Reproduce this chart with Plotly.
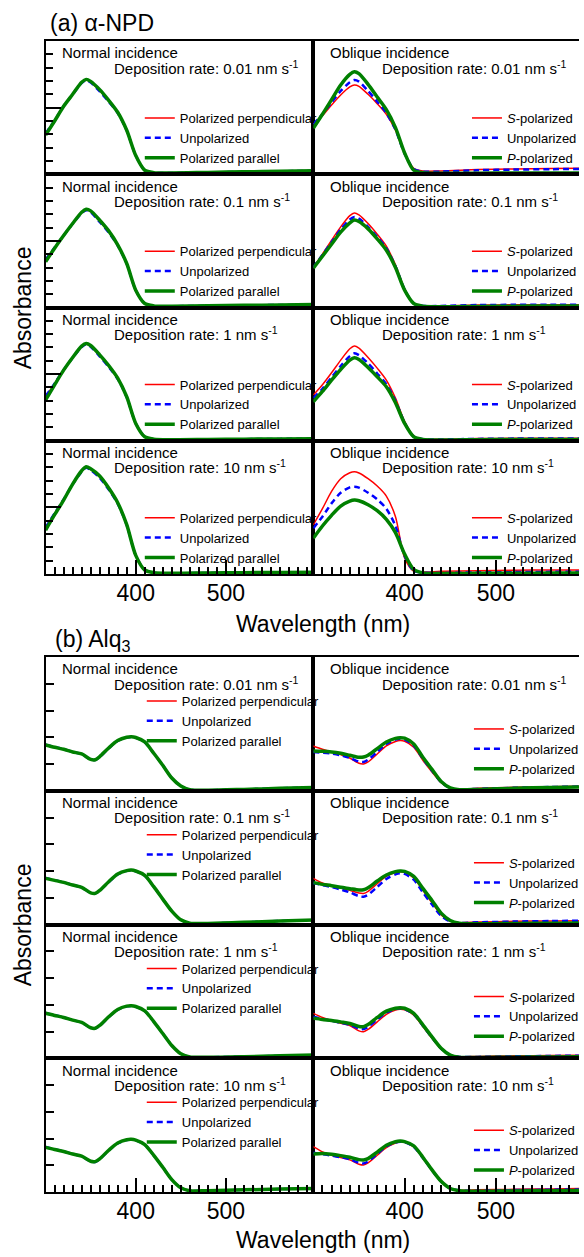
import plotly.graph_objects as go

W, H = 584, 1257
FONT = "Liberation Sans, Arial, sans-serif"

# ---------------- data ----------------
wl_npd = [300, 310, 320, 330, 340, 345, 350, 360, 370, 380, 390, 400, 410, 420, 440, 480, 520, 560, 600]
wl_alq = [300, 310, 320, 330, 340, 350, 355, 360, 370, 380, 390, 395, 400, 410, 420, 430, 440, 450, 460, 480, 520, 560, 600]
rates = ["0.01", "0.1", "1", "10"]

# alpha-NPD, normal incidence (perpendicular / unpolarized / parallel)
npd_n1_perp = [0.302, 0.403, 0.51, 0.599, 0.687, 0.708, 0.692, 0.628, 0.55, 0.462, 0.33, 0.14, 0.03, 0.012, 0.01, 0.014, 0.018, 0.022, 0.026]
npd_n1_unpol = [0.305, 0.405, 0.51, 0.598, 0.684, 0.705, 0.688, 0.622, 0.545, 0.46, 0.328, 0.14, 0.03, 0.012, 0.01, 0.014, 0.018, 0.022, 0.026]
npd_n1_par = [0.295, 0.40, 0.51, 0.60, 0.69, 0.712, 0.697, 0.635, 0.555, 0.465, 0.33, 0.14, 0.03, 0.012, 0.01, 0.014, 0.018, 0.022, 0.026]
npd_n2_perp = [0.355, 0.448, 0.54, 0.629, 0.711, 0.733, 0.72, 0.648, 0.568, 0.467, 0.33, 0.13, 0.03, 0.012, 0.01, 0.013, 0.016, 0.019, 0.022]
npd_n2_unpol = [0.36, 0.45, 0.54, 0.628, 0.708, 0.73, 0.715, 0.642, 0.563, 0.465, 0.328, 0.13, 0.03, 0.012, 0.01, 0.013, 0.016, 0.019, 0.022]
npd_n2_par = [0.344, 0.445, 0.54, 0.63, 0.715, 0.737, 0.725, 0.655, 0.575, 0.47, 0.33, 0.13, 0.03, 0.012, 0.01, 0.013, 0.016, 0.019, 0.022]
npd_n3_perp = [0.33, 0.428, 0.531, 0.624, 0.706, 0.727, 0.71, 0.638, 0.558, 0.466, 0.329, 0.13, 0.03, 0.012, 0.008, 0.01, 0.012, 0.014, 0.016]
npd_n3_unpol = [0.335, 0.43, 0.532, 0.623, 0.703, 0.724, 0.706, 0.633, 0.553, 0.463, 0.327, 0.13, 0.03, 0.012, 0.008, 0.01, 0.012, 0.014, 0.016]
npd_n3_par = [0.306, 0.42, 0.53, 0.625, 0.71, 0.73, 0.715, 0.645, 0.565, 0.47, 0.33, 0.13, 0.03, 0.012, 0.008, 0.01, 0.012, 0.014, 0.016]
npd_n4_perp = [0.345, 0.452, 0.558, 0.674, 0.771, 0.801, 0.785, 0.728, 0.638, 0.531, 0.369, 0.14, 0.03, 0.01, 0.006, 0.008, 0.01, 0.012, 0.014]
npd_n4_unpol = [0.35, 0.455, 0.56, 0.673, 0.768, 0.798, 0.78, 0.722, 0.633, 0.528, 0.367, 0.14, 0.03, 0.01, 0.006, 0.008, 0.01, 0.012, 0.014]
npd_n4_par = [0.33, 0.445, 0.555, 0.675, 0.775, 0.805, 0.79, 0.735, 0.645, 0.535, 0.37, 0.14, 0.03, 0.01, 0.006, 0.008, 0.01, 0.012, 0.014]

# alpha-NPD, oblique incidence (S / unpolarized / P)
npd_o1_s = [0.38, 0.44, 0.52, 0.595, 0.655, 0.67, 0.66, 0.60, 0.53, 0.45, 0.33, 0.155, 0.045, 0.025, 0.025, 0.035, 0.04, 0.043, 0.045]
npd_o1_unpol = [0.375, 0.45, 0.54, 0.625, 0.69, 0.707, 0.695, 0.625, 0.545, 0.46, 0.335, 0.155, 0.04, 0.02, 0.02, 0.03, 0.035, 0.038, 0.04]
npd_o1_p = [0.345, 0.45, 0.56, 0.67, 0.75, 0.77, 0.755, 0.675, 0.58, 0.485, 0.35, 0.16, 0.03, 0.012, 0.008, 0.008, 0.009, 0.01, 0.01]
npd_o2_s = [0.30, 0.40, 0.505, 0.605, 0.69, 0.71, 0.695, 0.63, 0.55, 0.46, 0.32, 0.14, 0.03, 0.012, 0.012, 0.018, 0.02, 0.02, 0.02]
npd_o2_unpol = [0.30, 0.395, 0.49, 0.585, 0.66, 0.68, 0.667, 0.605, 0.53, 0.445, 0.31, 0.135, 0.03, 0.012, 0.012, 0.018, 0.02, 0.02, 0.02]
npd_o2_p = [0.294, 0.385, 0.475, 0.565, 0.635, 0.657, 0.645, 0.59, 0.515, 0.43, 0.30, 0.13, 0.03, 0.01, 0.006, 0.008, 0.01, 0.012, 0.012]
npd_o3_s = [0.343, 0.42, 0.51, 0.605, 0.69, 0.711, 0.695, 0.625, 0.545, 0.455, 0.32, 0.145, 0.035, 0.012, 0.012, 0.016, 0.018, 0.018, 0.018]
npd_o3_unpol = [0.32, 0.39, 0.475, 0.56, 0.635, 0.656, 0.642, 0.58, 0.505, 0.425, 0.30, 0.135, 0.03, 0.012, 0.01, 0.014, 0.016, 0.016, 0.016]
npd_o3_p = [0.293, 0.37, 0.455, 0.535, 0.605, 0.623, 0.61, 0.55, 0.48, 0.405, 0.285, 0.13, 0.03, 0.01, 0.006, 0.008, 0.01, 0.01, 0.01]
npd_o4_s = [0.368, 0.49, 0.62, 0.715, 0.76, 0.768, 0.758, 0.715, 0.66, 0.585, 0.43, 0.12, 0.02, 0.015, 0.02, 0.025, 0.028, 0.03, 0.03]
npd_o4_unpol = [0.343, 0.43, 0.53, 0.61, 0.65, 0.655, 0.648, 0.61, 0.56, 0.49, 0.36, 0.135, 0.025, 0.01, 0.008, 0.012, 0.014, 0.016, 0.018]
npd_o4_p = [0.268, 0.36, 0.44, 0.51, 0.547, 0.555, 0.55, 0.52, 0.475, 0.41, 0.31, 0.15, 0.035, 0.008, 0.004, 0.005, 0.006, 0.007, 0.008]

# Alq3, normal incidence
alq_n1_par = [0.342, 0.325, 0.31, 0.29, 0.275, 0.235, 0.232, 0.255, 0.32, 0.375, 0.40, 0.404, 0.398, 0.365, 0.28, 0.19, 0.095, 0.035, 0.008, 0.004, 0.01, 0.018, 0.025]
alq_n1_unpol = [0.344, 0.327, 0.311, 0.29, 0.274, 0.233, 0.23, 0.252, 0.317, 0.372, 0.398, 0.402, 0.396, 0.363, 0.279, 0.19, 0.095, 0.035, 0.008, 0.004, 0.01, 0.018, 0.025]
alq_n1_perp = [0.343, 0.326, 0.31, 0.29, 0.275, 0.234, 0.231, 0.253, 0.318, 0.373, 0.399, 0.403, 0.397, 0.364, 0.28, 0.19, 0.095, 0.035, 0.008, 0.004, 0.01, 0.018, 0.025]
alq_n2_par = [0.345, 0.33, 0.315, 0.295, 0.278, 0.237, 0.233, 0.255, 0.32, 0.378, 0.403, 0.407, 0.40, 0.367, 0.283, 0.19, 0.10, 0.035, 0.01, 0.008, 0.016, 0.026, 0.034]
alq_n2_unpol = [0.347, 0.332, 0.316, 0.295, 0.277, 0.235, 0.231, 0.252, 0.317, 0.375, 0.401, 0.405, 0.398, 0.365, 0.282, 0.19, 0.10, 0.035, 0.01, 0.008, 0.016, 0.026, 0.034]
alq_n2_perp = [0.346, 0.331, 0.315, 0.295, 0.278, 0.236, 0.232, 0.253, 0.318, 0.376, 0.402, 0.406, 0.399, 0.366, 0.283, 0.19, 0.10, 0.035, 0.01, 0.008, 0.016, 0.026, 0.034]
alq_n3_par = [0.336, 0.32, 0.305, 0.285, 0.268, 0.228, 0.224, 0.245, 0.31, 0.365, 0.39, 0.393, 0.387, 0.355, 0.274, 0.185, 0.095, 0.034, 0.01, 0.008, 0.012, 0.018, 0.024]
alq_n3_unpol = [0.338, 0.322, 0.306, 0.285, 0.267, 0.226, 0.222, 0.242, 0.307, 0.362, 0.388, 0.391, 0.385, 0.353, 0.273, 0.185, 0.095, 0.034, 0.01, 0.008, 0.012, 0.018, 0.024]
alq_n3_perp = [0.337, 0.321, 0.305, 0.285, 0.268, 0.227, 0.223, 0.243, 0.308, 0.363, 0.389, 0.392, 0.386, 0.354, 0.274, 0.185, 0.095, 0.034, 0.01, 0.008, 0.012, 0.018, 0.024]
alq_n4_par = [0.334, 0.318, 0.303, 0.284, 0.268, 0.23, 0.227, 0.248, 0.312, 0.367, 0.391, 0.394, 0.388, 0.355, 0.274, 0.185, 0.093, 0.032, 0.01, 0.01, 0.016, 0.022, 0.026]
alq_n4_unpol = [0.336, 0.32, 0.304, 0.284, 0.267, 0.228, 0.225, 0.245, 0.309, 0.364, 0.389, 0.392, 0.386, 0.353, 0.273, 0.185, 0.093, 0.032, 0.01, 0.01, 0.016, 0.022, 0.026]
alq_n4_perp = [0.335, 0.319, 0.303, 0.284, 0.268, 0.229, 0.226, 0.246, 0.31, 0.365, 0.39, 0.393, 0.387, 0.354, 0.274, 0.185, 0.093, 0.032, 0.01, 0.01, 0.016, 0.022, 0.026]

# Alq3, oblique incidence
alq_o1_s = [0.335, 0.31, 0.29, 0.27, 0.245, 0.205, 0.2, 0.215, 0.275, 0.335, 0.368, 0.375, 0.37, 0.325, 0.228, 0.14, 0.06, 0.02, 0.012, 0.018, 0.026, 0.03, 0.034]
alq_o1_unpol = [0.29, 0.285, 0.278, 0.265, 0.245, 0.218, 0.215, 0.232, 0.29, 0.35, 0.382, 0.388, 0.383, 0.338, 0.24, 0.15, 0.065, 0.02, 0.01, 0.014, 0.022, 0.028, 0.032]
alq_o1_p = [0.297, 0.295, 0.29, 0.28, 0.265, 0.25, 0.252, 0.265, 0.315, 0.365, 0.392, 0.397, 0.393, 0.35, 0.25, 0.16, 0.07, 0.022, 0.008, 0.01, 0.018, 0.025, 0.03]
alq_o2_s = [0.345, 0.31, 0.29, 0.272, 0.255, 0.235, 0.232, 0.248, 0.305, 0.36, 0.388, 0.395, 0.39, 0.348, 0.255, 0.162, 0.072, 0.025, 0.014, 0.018, 0.024, 0.027, 0.028]
alq_o2_unpol = [0.31, 0.295, 0.28, 0.262, 0.24, 0.212, 0.208, 0.222, 0.28, 0.34, 0.375, 0.383, 0.378, 0.335, 0.24, 0.15, 0.065, 0.022, 0.012, 0.016, 0.022, 0.026, 0.028]
alq_o2_p = [0.313, 0.30, 0.29, 0.278, 0.268, 0.258, 0.26, 0.275, 0.325, 0.37, 0.395, 0.40, 0.397, 0.36, 0.27, 0.18, 0.085, 0.03, 0.01, 0.006, 0.008, 0.01, 0.012]
alq_o3_s = [0.336, 0.305, 0.282, 0.262, 0.245, 0.205, 0.198, 0.215, 0.272, 0.328, 0.36, 0.366, 0.362, 0.322, 0.238, 0.15, 0.07, 0.024, 0.012, 0.014, 0.018, 0.021, 0.024]
alq_o3_unpol = [0.31, 0.293, 0.28, 0.265, 0.25, 0.222, 0.218, 0.235, 0.29, 0.342, 0.368, 0.373, 0.368, 0.328, 0.243, 0.155, 0.072, 0.024, 0.01, 0.01, 0.014, 0.017, 0.02]
alq_o3_p = [0.30, 0.29, 0.283, 0.272, 0.26, 0.238, 0.236, 0.252, 0.305, 0.352, 0.374, 0.378, 0.374, 0.335, 0.25, 0.16, 0.075, 0.024, 0.008, 0.006, 0.008, 0.01, 0.012]
alq_o4_s = [0.339, 0.30, 0.275, 0.258, 0.24, 0.208, 0.202, 0.218, 0.275, 0.332, 0.366, 0.376, 0.372, 0.337, 0.254, 0.16, 0.076, 0.026, 0.014, 0.016, 0.02, 0.023, 0.026]
alq_o4_unpol = [0.294, 0.283, 0.272, 0.26, 0.245, 0.218, 0.214, 0.228, 0.285, 0.34, 0.37, 0.376, 0.372, 0.338, 0.255, 0.162, 0.078, 0.026, 0.012, 0.01, 0.014, 0.017, 0.02]
alq_o4_p = [0.284, 0.288, 0.282, 0.272, 0.26, 0.242, 0.239, 0.25, 0.298, 0.35, 0.376, 0.381, 0.377, 0.345, 0.26, 0.165, 0.08, 0.026, 0.01, 0.006, 0.008, 0.01, 0.012]

names_normal = ["Polarized perpendicular", "Unpolarized", "Polarized parallel"]
names_oblique = ["<i>S</i>-polarized", "Unpolarized", "<i>P</i>-polarized"]

panels = {
    ("a", 0, 0): [npd_n1_perp, npd_n1_unpol, npd_n1_par],
    ("a", 1, 0): [npd_n2_perp, npd_n2_unpol, npd_n2_par],
    ("a", 2, 0): [npd_n3_perp, npd_n3_unpol, npd_n3_par],
    ("a", 3, 0): [npd_n4_perp, npd_n4_unpol, npd_n4_par],
    ("a", 0, 1): [npd_o1_s, npd_o1_unpol, npd_o1_p],
    ("a", 1, 1): [npd_o2_s, npd_o2_unpol, npd_o2_p],
    ("a", 2, 1): [npd_o3_s, npd_o3_unpol, npd_o3_p],
    ("a", 3, 1): [npd_o4_s, npd_o4_unpol, npd_o4_p],
    ("b", 0, 0): [alq_n1_perp, alq_n1_unpol, alq_n1_par],
    ("b", 1, 0): [alq_n2_perp, alq_n2_unpol, alq_n2_par],
    ("b", 2, 0): [alq_n3_perp, alq_n3_unpol, alq_n3_par],
    ("b", 3, 0): [alq_n4_perp, alq_n4_unpol, alq_n4_par],
    ("b", 0, 1): [alq_o1_s, alq_o1_unpol, alq_o1_p],
    ("b", 1, 1): [alq_o2_s, alq_o2_unpol, alq_o2_p],
    ("b", 2, 1): [alq_o3_s, alq_o3_unpol, alq_o3_p],
    ("b", 3, 1): [alq_o4_s, alq_o4_unpol, alq_o4_p],
}

# ---------------- styles ----------------
line_styles = [
    dict(color="#ff0000", width=1.5),
    dict(color="#0000ff", width=2.5, dash="6px,4px"),
    dict(color="#008000", width=3.5),
]

def px(x):
    return x / W

def py(y):
    return 1 - y / H

group_top = {"a": 41.0, "b": 657.0}
row_h = {"a": 133.25, "b": 133.75}
col_x = [(46.0, 316.0), (316.0, 584.0)]
col_range = [[300, 597], [300, 591]]

fig = go.Figure()
layout = dict(
    width=W, height=H, autosize=False,
    margin=dict(l=0, r=0, t=0, b=0),
    paper_bgcolor="white", plot_bgcolor="white",
    font=dict(family=FONT, color="black"),
    showlegend=True,
)
annotations = []

idx = 0
for g in ["a", "b"]:
    for r in range(4):
        for c in range(2):
            idx += 1
            sfx = "" if idx == 1 else str(idx)
            top = group_top[g] + r * row_h[g]
            bot = top + row_h[g]
            bottom_row = (r == 3)
            xa = dict(
                domain=[px(col_x[c][0]), px(col_x[c][1])],
                range=col_range[c], anchor="y" + sfx,
                showline=True, mirror=True, linecolor="black", linewidth=2,
                showgrid=False, zeroline=False, fixedrange=True,
            )
            if bottom_row:
                xa.update(
                    tickmode="array", tickvals=[400, 500], ticktext=["400", "500"],
                    ticks="inside", ticklen=14, tickwidth=2, tickcolor="black",
                    ticklabelstandoff=-3,
                    tickfont=dict(size=23, family=FONT, color="black"),
                    minor=dict(ticks="inside", dtick=10, tick0=300, ticklen=7,
                               tickwidth=2, tickcolor="black"),
                )
            else:
                xa.update(ticks="", showticklabels=False)
            ya = dict(
                domain=[py(bot), py(top)], range=[0, 1], anchor="x" + sfx,
                showline=True, linecolor="black", linewidth=2,
                showgrid=False, zeroline=False, showticklabels=False, fixedrange=True,
            )
            if c == 0:
                ya["mirror"] = True
                if g == "a":
                    ya.update(tickmode="array", tickvals=[0.5], ticks="inside",
                              ticklen=15, tickwidth=2, tickcolor="black",
                              minor=dict(ticks="inside", dtick=0.1, tick0=0,
                                         ticklen=7, tickwidth=2, tickcolor="black"))
                else:
                    ya.update(tickmode="array", tickvals=[0.2, 0.4, 0.6, 0.8],
                              ticks="inside", ticklen=8, tickwidth=2, tickcolor="black")
            else:
                ya["mirror"] = False
                ya["ticks"] = ""
            layout["xaxis" + sfx] = xa
            layout["yaxis" + sfx] = ya

            wl = wl_npd if g == "a" else wl_alq
            names = names_normal if c == 0 else names_oblique
            legname = "legend" + sfx
            for k, series in enumerate(panels[(g, r, c)]):
                fig.add_trace(go.Scatter(
                    x=wl, y=series, mode="lines", name=names[k],
                    line=dict(shape="spline", smoothing=0.8, **line_styles[k]),
                    xaxis="x" + sfx, yaxis="y" + sfx, legend=legname,
                    hoverinfo="skip",
                ))
            # legend placement
            if g == "a":
                lx = 141 if c == 0 else 471
                ly = top + 62
            else:
                lx = 143 if c == 0 else 473
                ly = top + 29 if c == 0 else top + 57
            layout[legname] = dict(
                x=px(lx), y=py(ly), xanchor="left", yanchor="top",
                bgcolor="rgba(0,0,0,0)", borderwidth=0, tracegroupgap=0,
                font=dict(size=13, family=FONT, color="black"),
                itemwidth=30, traceorder="normal",
            )
            # panel texts
            head = "Normal incidence" if c == 0 else "Oblique incidence"
            hx = 61 if c == 0 else 331
            dx = 113 if c == 0 else 383
            annotations.append(dict(
                text=head, x=px(hx), y=py(top + 12), xref="paper", yref="paper",
                xanchor="left", yanchor="middle", showarrow=False,
                font=dict(size=15, family=FONT, color="black")))
            annotations.append(dict(
                text="Deposition rate: %s nm s<sup>-1</sup>" % rates[r],
                x=px(dx), y=py(top + 26), xref="paper", yref="paper",
                xanchor="left", yanchor="middle", showarrow=False,
                font=dict(size=15, family=FONT, color="black")))

big = dict(size=23, family=FONT, color="black")
annotations += [
    dict(text="(a) \u03b1-NPD", x=px(48), y=py(23), xref="paper", yref="paper",
         xanchor="left", yanchor="middle", showarrow=False, font=big),
    dict(text="(b) Alq<sub>3</sub>", x=px(53), y=py(640), xref="paper", yref="paper",
         xanchor="left", yanchor="middle", showarrow=False, font=big),
    dict(text="Wavelength (nm)", x=px(326), y=py(624), xref="paper", yref="paper",
         xanchor="center", yanchor="middle", showarrow=False, font=big),
    dict(text="Wavelength (nm)", x=px(326), y=py(1240), xref="paper", yref="paper",
         xanchor="center", yanchor="middle", showarrow=False, font=big),
    dict(text="Absorbance", x=px(23), y=py(307.5), xref="paper", yref="paper",
         xanchor="center", yanchor="middle", textangle=-90, showarrow=False, font=big),
    dict(text="Absorbance", x=px(23), y=py(924.5), xref="paper", yref="paper",
         xanchor="center", yanchor="middle", textangle=-90, showarrow=False, font=big),
]
layout["annotations"] = annotations
fig.update_layout(**layout)
fig.write_html("out.html")
